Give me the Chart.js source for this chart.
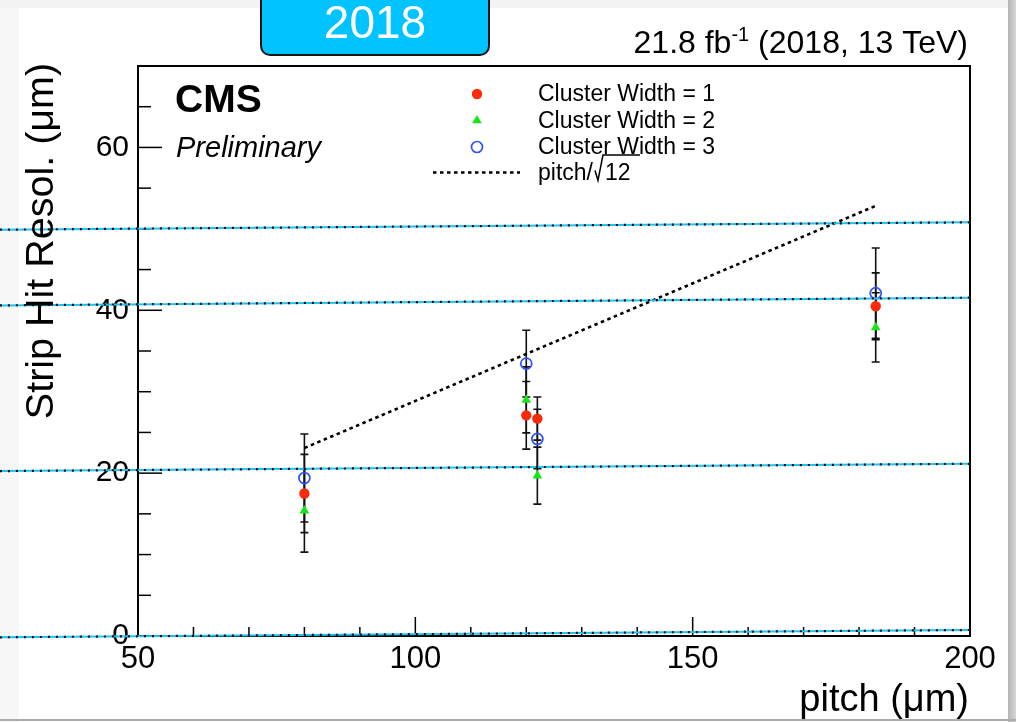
<!DOCTYPE html>
<html>
<head>
<meta charset="utf-8">
<script src="https://cdn.jsdelivr.net/npm/chart.js@4.4.1/dist/chart.umd.min.js"></script>
<style>
  html, body { margin: 0; padding: 0; background: #fff; }
  #page { position: relative; width: 1016px; height: 722px; overflow: hidden; background: #fff; }
  .edge { position: absolute; }
  #edgeL { left: 0; top: 0; width: 19px; height: 722px; background: #f7f7f7; }
  #edgeT { left: 0; top: 0; width: 1016px; height: 8px; background: #f3f3f3; }
  #edgeR { left: 1008px; top: 0; width: 8px; height: 722px; background: linear-gradient(to right, #b5b5b5, #d6d6d6); }
  #edgeB { left: 0; top: 719px; width: 1016px; height: 2px; background: #ababab; }
  #plot { position: absolute; left: 0; top: 0; }
</style>
</head>
<body>
<div id="page">
  <div class="edge" id="edgeL"></div>
  <div class="edge" id="edgeT"></div>
  <div class="edge" id="edgeR"></div>
  <div class="edge" id="edgeB"></div>
  <canvas id="plot" width="1016" height="722"></canvas>
</div>
<script>
// Strip hit resolution vs. strip pitch, per cluster width
const pitches   = [80, 120, 122, 183];
const cw1Resol  = [17.5, 27.1, 26.7, 40.5];
const cw1Err    = [4.8, 4.15, 2.65, 4.1];
const cw2Resol  = [15.4, 29.0, 19.7, 37.9];
const cw2Err    = [5.1, 4.05, 3.5, 4.25];
const cw3Resol  = [19.4, 33.45, 24.2, 42.1];
const cw3Err    = [5.4, 4.1, 3.65, 5.55];

// binary resolution reference: pitch / sqrt(12)
const pitchLineX = [80, 183];
const pitchLineY = [23.09, 52.83];

const seriesLabels = ['Cluster Width = 1', 'Cluster Width = 2', 'Cluster Width = 3', 'pitch/'];
const xTickValues = [50, 100, 150, 200];
const yTickValues = [0, 20, 40, 60];

// horizontal reference guides (start / end, in axis units)
const guideX      = [25.1, 200];
const guideStartY = [49.9, 40.6, 20.25, -0.16];
const guideEndY   = [50.8, 41.55, 21.15, 0.74];

const FONT = "'Liberation Sans', Arial, Helvetica, sans-serif";
const RED = '#f82a0c', GREEN = '#18e418', BLUE = '#2f52ff', CYAN = '#22c0f0';
const R_RED = 5.2, R_GREEN = 5.6, R_BLUE = 5.5;

const pts = (xs, ys) => xs.map((x, i) => ({ x: x, y: ys[i] }));

const datasets = [
  { label: seriesLabels[2], data: pts(pitches, cw3Resol), order: 1, pointStyle: 'circle',
    pointRadius: R_BLUE, pointBorderWidth: 1.7, pointBorderColor: BLUE, pointBackgroundColor: 'rgba(0,0,0,0)', showLine: false, errors: cw3Err },
  { label: seriesLabels[0], data: pts(pitches, cw1Resol), order: 2, pointStyle: 'circle',
    pointRadius: R_RED, pointBorderWidth: 0, pointBackgroundColor: RED, pointBorderColor: RED, showLine: false, errors: cw1Err },
  { label: seriesLabels[1], data: pts(pitches, cw2Resol), order: 3, pointStyle: 'triangle',
    pointRadius: R_GREEN, pointBorderWidth: 0, pointBackgroundColor: GREEN, pointBorderColor: GREEN, showLine: false, errors: cw2Err },
  { label: seriesLabels[3], data: pts(pitchLineX, pitchLineY), order: 4, showLine: true,
    borderColor: '#000', borderWidth: 2.6, borderDash: [3.5, 3.5], pointRadius: 0 }
];

guideStartY.forEach((y0, i) => {
  const d = [{ x: guideX[0], y: y0 }, { x: guideX[1], y: guideEndY[i] }];
  datasets.push({ label: 'guide' + i, data: d, order: 0, showLine: true, clip: false,
    borderColor: CYAN, borderWidth: 2, pointRadius: 0 });
  datasets.push({ label: 'guideDots' + i, data: d, order: -1, showLine: true, clip: false,
    borderColor: '#111', borderWidth: 2.2, borderDash: [2, 6], pointRadius: 0 });
});

// frame, inward ticks, error bars and annotation text
const framePlugin = {
  id: 'frame',
  beforeDatasetsDraw(chart) {
    const ctx = chart.ctx, ca = chart.chartArea;
    const xs = chart.scales.x, ys = chart.scales.y;
    ctx.save();
    ctx.strokeStyle = '#000';
    ctx.lineWidth = 1.5;
    for (let v = 0; v <= 70; v += 5) {
      const p = ys.getPixelForValue(v);
      const len = (v % 20 === 0) ? 24 : 13;
      ctx.beginPath(); ctx.moveTo(ca.left, p); ctx.lineTo(ca.left + len, p); ctx.stroke();
    }
    for (let v = 50; v <= 200; v += 10) {
      const p = xs.getPixelForValue(v);
      const len = (v % 50 === 0) ? 19 : 9;
      ctx.beginPath(); ctx.moveTo(p, ca.bottom); ctx.lineTo(p, ca.bottom - len); ctx.stroke();
    }
    ctx.lineWidth = 2;
    ctx.strokeRect(ca.left, ca.top, ca.right - ca.left, ca.bottom - ca.top);

    // error bars
    ctx.strokeStyle = '#111';
    ctx.lineWidth = 1.6;
    chart.data.datasets.forEach(ds => {
      if (!ds.errors) return;
      ds.data.forEach((pt, i) => {
        const px = xs.getPixelForValue(pt.x);
        const lo = ys.getPixelForValue(pt.y - ds.errors[i]);
        const hi = ys.getPixelForValue(pt.y + ds.errors[i]);
        ctx.beginPath();
        ctx.moveTo(px, lo); ctx.lineTo(px, hi);
        ctx.moveTo(px - 4, lo); ctx.lineTo(px + 4, lo);
        ctx.moveTo(px - 4, hi); ctx.lineTo(px + 4, hi);
        ctx.stroke();
      });
    });
    ctx.restore();
  },
  afterDraw(chart) {
    const ctx = chart.ctx;
    ctx.save();

    // year badge
    ctx.beginPath();
    ctx.roundRect(261, -14, 228, 69, 9);
    ctx.fillStyle = '#00c3ff';
    ctx.fill();
    ctx.lineWidth = 2;
    ctx.strokeStyle = '#151515';
    ctx.stroke();
    ctx.fillStyle = '#fff';
    ctx.font = '46px ' + FONT;
    ctx.textAlign = 'center';
    ctx.textBaseline = 'alphabetic';
    ctx.fillText('2018', 375, 38);

    // luminosity / energy label
    ctx.fillStyle = '#000';
    ctx.textAlign = 'left';
    const right = 968, base = 53;
    ctx.font = '32px ' + FONT;
    const tail = ' (2018, 13 TeV)';
    const head = '21.8 fb';
    const wTail = ctx.measureText(tail).width;
    const wHead = ctx.measureText(head).width;
    ctx.font = '20px ' + FONT;
    const sup = '-1';
    const wSup = ctx.measureText(sup).width;
    const x0 = right - wTail - wSup - wHead;
    ctx.font = '32px ' + FONT;
    ctx.fillText(head, x0, base);
    ctx.fillText(tail, x0 + wHead + wSup, base);
    ctx.font = '20px ' + FONT;
    ctx.fillText(sup, x0 + wHead, base - 12);

    // experiment label
    ctx.font = 'bold 39px ' + FONT;
    ctx.fillText('CMS', 175, 112);
    ctx.font = 'italic 29px ' + FONT;
    ctx.fillText('Preliminary', 176, 157);

    // axis titles
    ctx.font = '38px ' + FONT;
    ctx.textAlign = 'right';
    ctx.fillText('pitch (\u03bcm)', 969, 711);
    ctx.save();
    ctx.translate(53, 241);
    ctx.rotate(-Math.PI / 2);
    ctx.textAlign = 'center';
    ctx.font = '39.5px ' + FONT;
    ctx.fillText('Strip Hit Resol. (\u03bcm)', 0, 0);
    ctx.restore();

    // legend
    const mx = 477, tx = 538;
    const rows = [94, 120.5, 147, 172.5];
    ctx.font = '23px ' + FONT;
    ctx.textAlign = 'left';
    ctx.textBaseline = 'middle';
    ctx.fillStyle = RED;
    ctx.beginPath(); ctx.arc(mx, rows[0], R_RED, 0, Math.PI * 2); ctx.fill();
    ctx.fillStyle = GREEN;
    ctx.beginPath();
    ctx.moveTo(mx, rows[1] - R_GREEN);
    ctx.lineTo(mx + R_GREEN * 0.866, rows[1] + R_GREEN / 2);
    ctx.lineTo(mx - R_GREEN * 0.866, rows[1] + R_GREEN / 2);
    ctx.closePath(); ctx.fill();
    ctx.strokeStyle = BLUE; ctx.lineWidth = 1.7;
    ctx.beginPath(); ctx.arc(mx, rows[2], R_BLUE, 0, Math.PI * 2); ctx.stroke();
    ctx.strokeStyle = '#000'; ctx.lineWidth = 2.6; ctx.setLineDash([3.5, 3.5]);
    ctx.beginPath(); ctx.moveTo(433, rows[3]); ctx.lineTo(520, rows[3]); ctx.stroke();
    ctx.setLineDash([]);

    ctx.fillStyle = '#000';
    ctx.fillText(seriesLabels[0], tx, rows[0] + 1);
    ctx.fillText(seriesLabels[1], tx, rows[1] + 1);
    ctx.fillText(seriesLabels[2], tx, rows[2] + 1);
    ctx.fillText(seriesLabels[3], tx, rows[3] + 1);
    const wp = ctx.measureText(seriesLabels[3]).width;
    const rx = tx + wp + 2;
    ctx.lineWidth = 1.5;
    ctx.beginPath();
    ctx.moveTo(rx, rows[3] - 2);
    ctx.lineTo(rx + 3, rows[3] + 8);
    ctx.lineTo(rx + 8, rows[3] - 17.5);
    ctx.lineTo(rx + 45, rows[3] - 17.5);
    ctx.stroke();
    ctx.fillText('12', rx + 10, rows[3] + 1);

    ctx.restore();
  }
};

new Chart(document.getElementById('plot'), {
  type: 'scatter',
  data: { datasets: datasets },
  plugins: [framePlugin],
  options: {
    responsive: false,
    animation: false,
    devicePixelRatio: 1,
    layout: { padding: { left: 0, top: 66, right: 46, bottom: 0 } },
    plugins: { legend: { display: false }, tooltip: { enabled: false } },
    scales: {
      x: {
        type: 'linear', min: 50, max: 200,
        afterBuildTicks: s => { s.ticks = xTickValues.map(v => ({ value: v })); },
        afterFit: s => { s.height = 86; },
        grid: { display: false, drawTicks: false },
        border: { display: false },
        ticks: { font: { family: FONT, size: 31 }, color: '#000', padding: 5, maxRotation: 0, autoSkip: false }
      },
      y: {
        type: 'linear', min: 0, max: 70,
        afterBuildTicks: s => { s.ticks = yTickValues.map(v => ({ value: v })); },
        afterFit: s => { s.width = 138; },
        grid: { display: false, drawTicks: false },
        border: { display: false },
        ticks: { font: { family: FONT, size: 30 }, color: '#000', padding: 9, autoSkip: false }
      }
    }
  }
});
</script>
</body>
</html>
